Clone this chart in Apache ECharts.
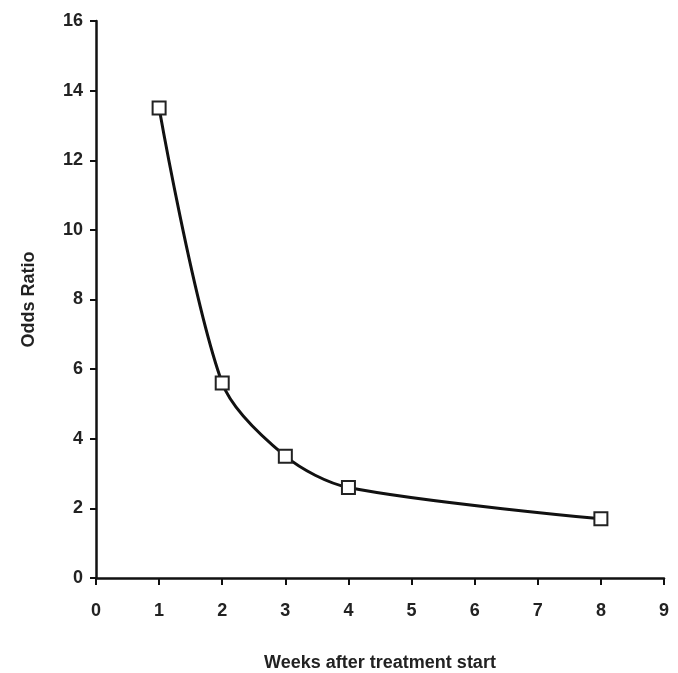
<!DOCTYPE html>
<html><head><meta charset="utf-8">
<script src="https://cdn.jsdelivr.net/npm/echarts@6/dist/echarts.min.js"></script>
<style>html,body{margin:0;padding:0;background:#fff}#c{width:678px;height:673px}</style>
</head><body><div id="c"></div>
<script>
var weeks = [1, 2, 3, 4, 8];
var oddsRatio = [13.5, 5.6, 3.5, 2.6, 1.7];
var xTitle = 'Weeks after treatment start';
var yTitle = 'Odds Ratio';

var chart = echarts.init(document.getElementById('c'));
var font = 'Liberation Sans, Arial, sans-serif';
chart.setOption({
  animation: false,
  backgroundColor: '#fff',
  grid: {left: 96, right: 14, top: 21, bottom: 95, outerBoundsMode: 'none', containLabel: false},
  xAxis: {
    type: 'value', min: 0, max: 9, interval: 1,
    name: xTitle, nameLocation: 'middle', nameGap: 76,
    nameTextStyle: {fontFamily: font, fontSize: 18, fontWeight: 'bold', color: '#222'},
    axisLine: {lineStyle: {color: '#111', width: 2.5}},
    axisTick: {show: true, length: 7, lineStyle: {color: '#111', width: 2}},
    axisLabel: {fontFamily: font, fontSize: 18, fontWeight: 'bold', color: '#222', margin: 24},
    splitLine: {show: false}
  },
  yAxis: {
    type: 'value', min: 0, max: 16, interval: 2,
    name: yTitle, nameLocation: 'middle', nameGap: 58,
    nameTextStyle: {fontFamily: font, fontSize: 18, fontWeight: 'bold', color: '#222'},
    axisLine: {show: true, lineStyle: {color: '#111', width: 2.5}},
    axisTick: {show: true, length: 6, lineStyle: {color: '#111', width: 2}},
    axisLabel: {fontFamily: font, fontSize: 18, fontWeight: 'bold', color: '#222', margin: 13},
    splitLine: {show: false}
  },
  series: [{
    type: 'line',
    data: weeks.map(function(w, i){ return [w, oddsRatio[i]]; }),
    smooth: 0.3,
    symbol: 'rect', symbolSize: 13,
    itemStyle: {color: '#fff', borderColor: '#222', borderWidth: 2},
    lineStyle: {color: '#111', width: 3}
  }]
});
</script></body></html>
